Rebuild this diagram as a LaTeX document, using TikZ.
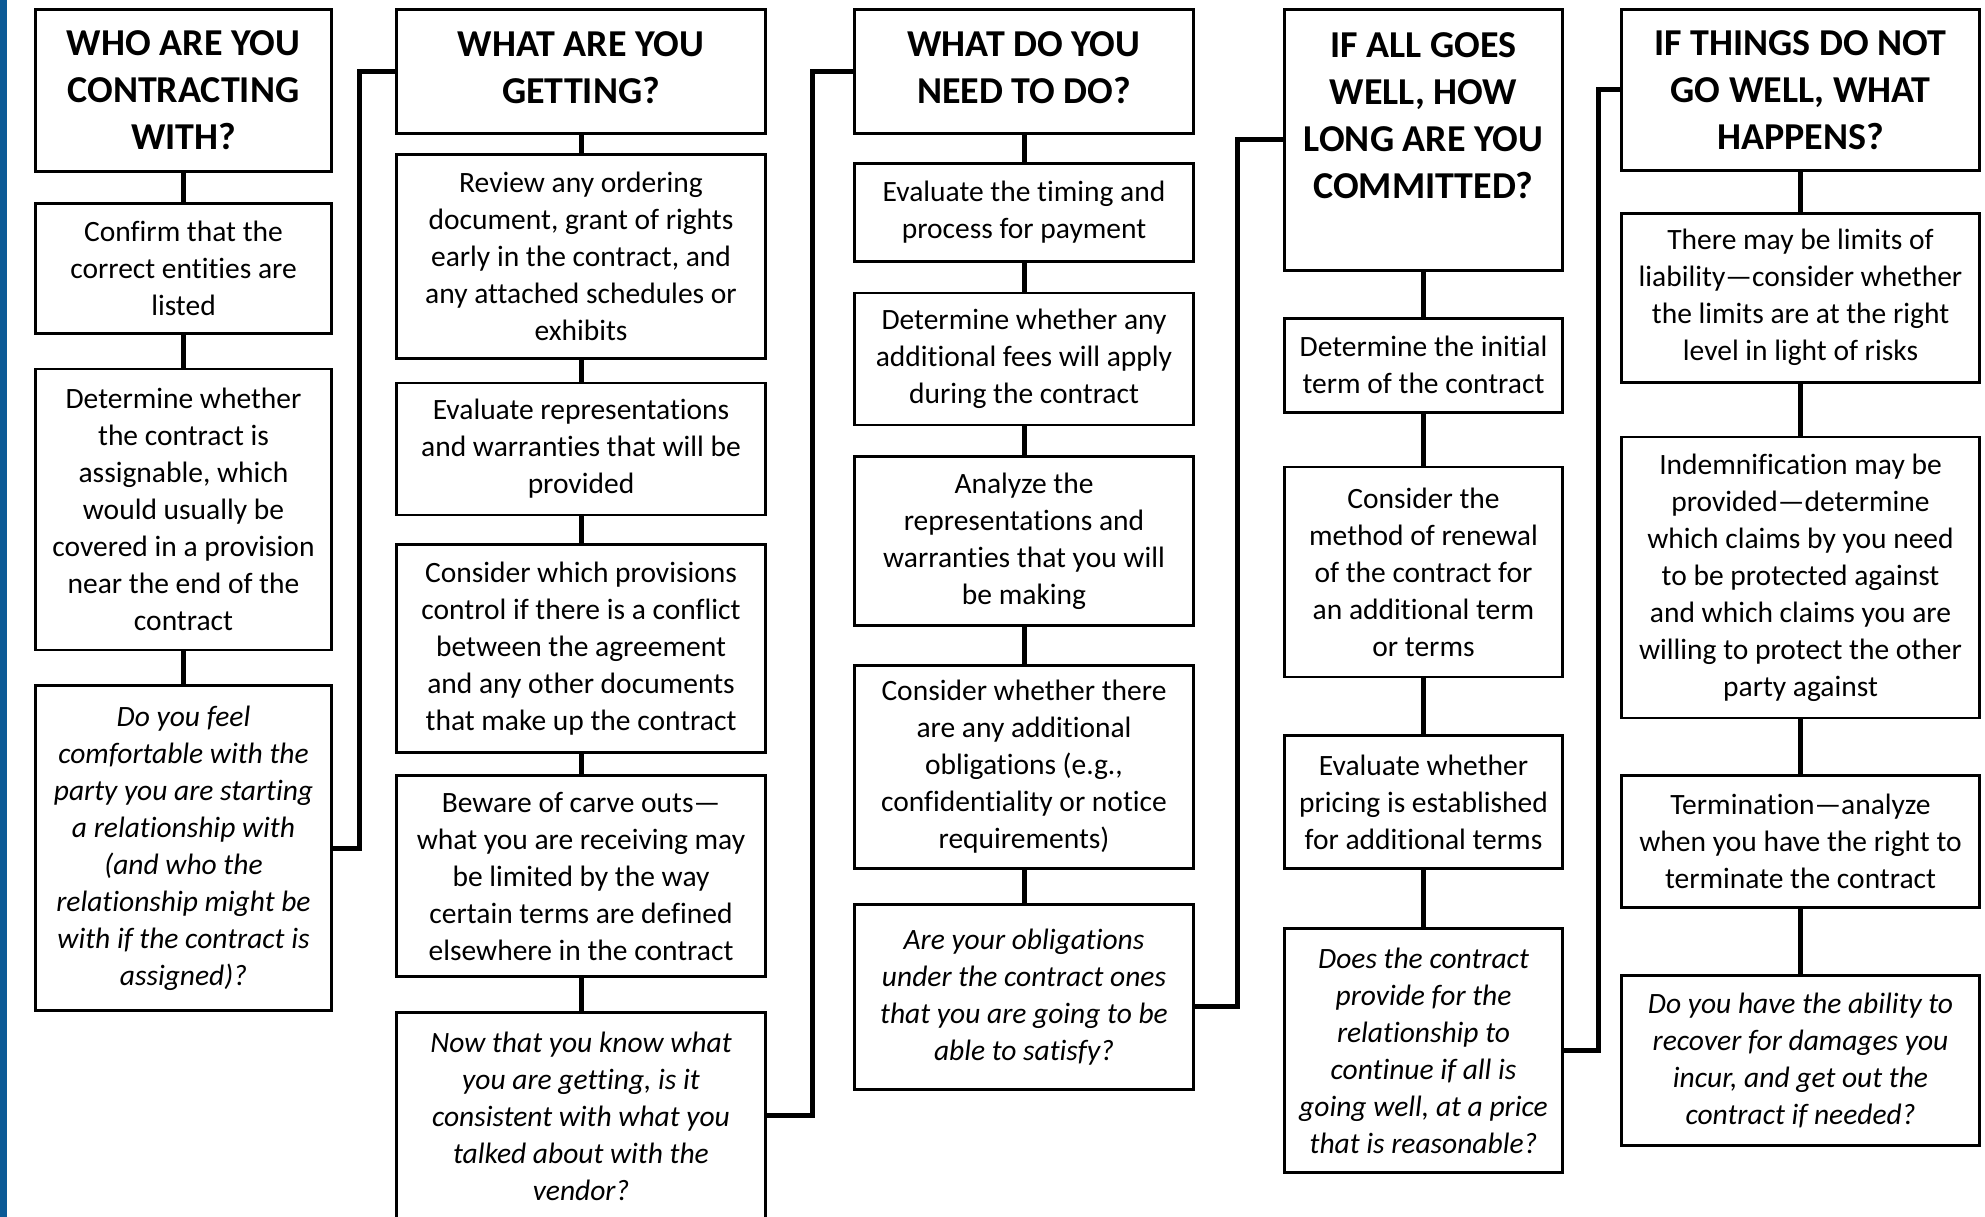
\documentclass[tikz,border=0pt]{standalone}
\usepackage{fontspec}
\setmainfont{Carlito}[Ligatures=NoCommon]
\usepackage{tikz}
\usetikzlibrary{positioning}
\definecolor{sideblue}{HTML}{0B5A96}
\newcommand\boxfont{\fontsize{29.5}{37}\selectfont}
\newcommand\titlefont{\fontsize{38}{47}\selectfont\bfseries}

\begin{document}
\begin{tikzpicture}[
        x=1pt, y=1pt,
        head/.style = {draw, line width=2.8pt, align=center, inner sep=4pt, text depth=0pt, minimum width=#1, font=\titlefont},
        box/.style  = {draw, line width=2.8pt, align=center, inner sep=4pt, minimum width=#1, font=\boxfont},
        ask/.style  = {box=#1, font=\boxfont\itshape},
        link/.style = {line width=5pt},
    ]
        \useasboundingbox (0,0) rectangle (1985,-1217);
        \fill[sideblue] (0,0) rectangle (7,-1217);

        \node[head=296pt, minimum height=162pt, anchor=north] (who) at (183.5,-8) {WHO ARE YOU\\CONTRACTING\\WITH?};
        \node[box=296pt, minimum height=130pt, below=29pt of who] (confirm) {Confirm that the\\correct entities are\\listed};
        \node[box=296pt, minimum height=281pt, below=33pt of confirm] (assign) {Determine whether\\the contract is\\assignable, which\\would usually be\\covered in a provision\\near the end of the\\contract};
        \node[ask=296pt, minimum height=325pt, below=33pt of assign] (feel) {Do you feel\\comfortable with the\\party you are starting\\a relationship with\\(and who the\\relationship might be\\with if the contract is\\assigned)?};

        \node[head=369pt, minimum height=124pt, text depth=8pt, anchor=north] (what) at (581,-8) {WHAT ARE YOU\\GETTING?};
        \node[box=369pt, minimum height=204pt, below=18pt of what] (review) {Review any ordering\\document, grant of rights\\early in the contract, and\\any attached schedules or\\exhibits};
        \node[box=369pt, minimum height=132pt, below=22pt of review] (reps) {Evaluate representations\\and warranties that will be\\provided};
        \node[box=369pt, minimum height=208pt, below=27pt of reps] (conflict) {Consider which provisions\\control if there is a conflict\\between the agreement\\and any other documents\\that make up the contract};
        \node[box=369pt, minimum height=201pt, below=20pt of conflict] (carve) {Beware of carve outs—\\what you are receiving may\\be limited by the way\\certain terms are defined\\elsewhere in the contract};
        \node[ask=369pt, minimum height=207pt, below=33pt of carve] (know) {Now that you know what\\you are getting, is it\\consistent with what you\\talked about with the\\vendor?};

        \node[head=339pt, minimum height=124pt, text depth=8pt, anchor=north] (need) at (1024,-8) {WHAT DO YOU\\NEED TO DO?};
        \node[box=339pt, minimum height=98pt, below=27pt of need] (pay) {Evaluate the timing and\\process for payment};
        \node[box=339pt, minimum height=132pt, below=29pt of pay] (fees) {Determine whether any\\additional fees will apply\\during the contract};
        \node[box=339pt, minimum height=169pt, below=29pt of fees] (analyze) {Analyze the\\representations and\\warranties that you will\\be making};
        \node[box=339pt, minimum height=203pt, below=37pt of analyze] (oblig) {Consider whether there\\are any additional\\obligations (e.g.,\\confidentiality or notice\\requirements)};
        \node[ask=339pt, minimum height=185pt, below=33pt of oblig] (able) {Are your obligations\\under the contract ones\\that you are going to be\\able to satisfy?};

        \node[head=278pt, minimum height=261pt, text depth=48pt, anchor=north] (long) at (1423.5,-8) {IF ALL GOES\\WELL, HOW\\LONG ARE YOU\\COMMITTED?};
        \node[box=278pt, minimum height=94pt, below=45pt of long] (initial) {Determine the initial\\term of the contract};
        \node[box=278pt, minimum height=210pt, below=52pt of initial] (renew) {Consider the\\method of renewal\\of the contract for\\an additional term\\or terms};
        \node[box=278pt, minimum height=133pt, below=56pt of renew] (pricing) {Evaluate whether\\pricing is established\\for additional terms};
        \node[ask=278pt, minimum height=244pt, below=57pt of pricing] (price) {Does the contract\\provide for the\\relationship to\\continue if all is\\going well, at a price\\that is reasonable?};

        \node[head=358pt, minimum height=161pt, anchor=north] (notwell) at (1800.5,-8) {IF THINGS DO NOT\\GO WELL, WHAT\\HAPPENS?};
        \node[box=358pt, minimum height=169pt, below=40pt of notwell] (limits) {There may be limits of\\liability—consider whether\\the limits are at the right\\level in light of risks};
        \node[box=358pt, minimum height=281pt, below=52pt of limits] (indem) {Indemnification may be\\provided—determine\\which claims by you need\\to be protected against\\and which claims you are\\willing to protect the other\\party against};
        \node[box=358pt, minimum height=132pt, below=55pt of indem] (term) {Termination—analyze\\when you have the right to\\terminate the contract};
        \node[ask=358pt, minimum height=170pt, below=65pt of term] (recover) {Do you have the ability to\\recover for damages you\\incur, and get out the\\contract if needed?};

        \draw[link] (who) -- (confirm);
        \draw[link] (confirm) -- (assign);
        \draw[link] (assign) -- (feel);
        \draw[link] (what) -- (review);
        \draw[link] (review) -- (reps);
        \draw[link] (reps) -- (conflict);
        \draw[link] (conflict) -- (carve);
        \draw[link] (carve) -- (know);
        \draw[link] (need) -- (pay);
        \draw[link] (pay) -- (fees);
        \draw[link] (fees) -- (analyze);
        \draw[link] (analyze) -- (oblig);
        \draw[link] (oblig) -- (able);
        \draw[link] (long) -- (initial);
        \draw[link] (initial) -- (renew);
        \draw[link] (renew) -- (pricing);
        \draw[link] (pricing) -- (price);
        \draw[link] (notwell) -- (limits);
        \draw[link] (limits) -- (indem);
        \draw[link] (indem) -- (term);
        \draw[link] (term) -- (recover);
        \draw[link] (feel.east) -- ++(27,0) |- (what.west);
        \draw[link] (know.east) -- ++(46,0) |- (need.west);
        \draw[link] ([yshift=-10pt]able.east) -- ++(43,0) |- (long.west);
        \draw[link] (price.east) -- ++(35,0) |- (notwell.west);
    \end{tikzpicture}
\end{document}
